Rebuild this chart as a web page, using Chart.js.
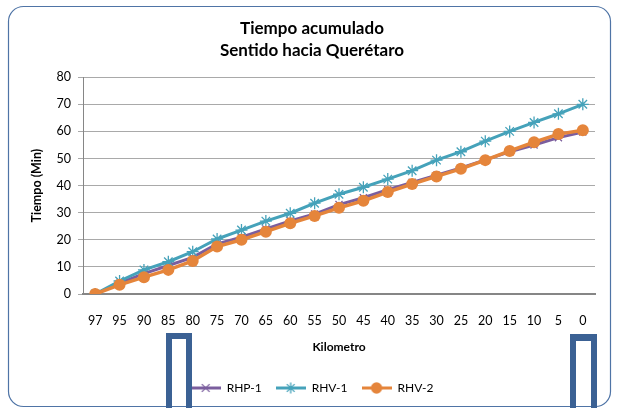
<!DOCTYPE html>
<html>
<head>
<meta charset="utf-8">
<script src="https://cdn.jsdelivr.net/npm/chart.js@4/dist/chart.umd.min.js"></script>
<style>
  html, body { margin: 0; padding: 0; background: #fff; }
  #wrap { width: 619px; height: 408px; }
</style>
</head>
<body>
<div id="wrap"><canvas id="chart1" width="619" height="408"></canvas></div>
<script>
// data
const km = ['97','95','90','85','80','75','70','65','60','55','50','45','40','35','30','25','20','15','10','5','0']
const rhp1 = [0, 4, 7.5, 10.5, 13.5, 18.5, 21, 24, 27, 29.5, 33, 35.5, 38.5, 41.2, 43.8, 46.5, 49.5, 52.5, 55, 57.7, 59.8]
const rhv1 = [0, 4.8, 8.9, 11.9, 15.6, 20.3, 23.6, 26.9, 29.8, 33.5, 36.8, 39.4, 42.4, 45.5, 49.4, 52.5, 56.4, 60, 63.3, 66.5, 70]
const rhv2 = [0, 3.4, 6.2, 8.9, 12.2, 17.5, 20, 23, 26.1, 28.8, 31.8, 34.4, 37.6, 40.6, 43.4, 46.2, 49.4, 52.8, 56, 59, 60.4]
const yTicks = [0, 10, 20, 30, 40, 50, 60, 70, 80]

const purple = '#7b5e9e'
const teal = '#45a2ba'
const orange = '#e5853b'
const font = 'Lato, "Open Sans", sans-serif'

// legend icon: line with marker
function legendIcon(color, style) {
  const c = document.createElement('canvas')
  c.width = 30
  c.height = 14
  const ctx = c.getContext('2d')
  ctx.strokeStyle = color
  ctx.fillStyle = color
  ctx.lineWidth = 3
  ctx.beginPath()
  ctx.moveTo(0, 7)
  ctx.lineTo(30, 7)
  ctx.stroke()
  ctx.lineWidth = 1.3
  Chart.helpers.drawPoint(ctx, {pointStyle: style, radius: style === 'circle' ? 5 : 5.5, borderWidth: 1.3}, 15, 7)
  return c
}

const frame = {
  id: 'frame',
  beforeDraw(chart) {
    const ctx = chart.ctx
    ctx.save()
    ctx.strokeStyle = '#4f74a6'
    ctx.lineWidth = 1.2
    ctx.beginPath()
    ctx.roundRect(8.5, 6.5, 602, 400, 15)
    ctx.stroke()
    ctx.restore()
  },
  afterDraw(chart) {
    const ctx = chart.ctx
    ctx.save()
    ctx.fillStyle = '#3b6194'
    // left bracket
    ctx.fillRect(166, 333, 6, 75)
    ctx.fillRect(166, 333, 26, 6)
    ctx.fillRect(186, 333, 6, 75)
    // right bracket
    ctx.fillRect(570, 334, 6, 74)
    ctx.fillRect(570, 334, 27, 7)
    ctx.fillRect(591, 334, 6, 74)
    ctx.restore()
  }
}

const data1 = {
  labels: km,
  datasets: [{
    label: 'RHP-1',
    data: rhp1,
    borderColor: purple,
    backgroundColor: purple,
    borderWidth: 3,
    pointStyle: 'crossRot',
    pointRadius: 5,
    pointBorderWidth: 1.3,
    order: 2,
    icon: legendIcon(purple, 'crossRot')
  }, {
    label: 'RHV-1',
    data: rhv1,
    borderColor: teal,
    backgroundColor: teal,
    borderWidth: 3,
    pointStyle: 'star',
    pointRadius: 6,
    pointBorderWidth: 1.3,
    order: 1,
    icon: legendIcon(teal, 'star')
  }, {
    label: 'RHV-2',
    data: rhv2,
    borderColor: orange,
    backgroundColor: orange,
    borderWidth: 3.5,
    pointStyle: 'circle',
    pointRadius: 6,
    pointBorderWidth: 0,
    order: 0,
    icon: legendIcon(orange, 'circle')
  }]
}

const config1 = {
  type: 'line',
  data: data1,
  plugins: [frame],
  options: {
    responsive: false,
    animation: false,
    layout: { padding: { left: 29, right: 24, top: 0, bottom: 4 } },
    plugins: {
      title: {
        display: true,
        text: ['Tiempo acumulado', 'Sentido hacia Querétaro'],
        color: '#000',
        font: { family: font, size: 17, weight: 'bold', lineHeight: 1.3 },
        padding: { top: 17, bottom: 16 }
      },
      legend: {
        position: 'bottom',
        labels: {
          color: '#000',
          font: { family: font, size: 12 },
          usePointStyle: true,
          pointStyleWidth: 30,
          padding: 14,
          generateLabels(chart) {
            return chart.data.datasets.map((ds, i) => ({
              text: ds.label,
              datasetIndex: i,
              pointStyle: ds.icon,
              fillStyle: ds.borderColor,
              strokeStyle: ds.borderColor,
              lineWidth: 0,
              hidden: false
            }))
          }
        }
      },
      tooltip: { enabled: false }
    },
    scales: {
      x: {
        offset: true,
        grid: { display: false, offset: true },
        border: { display: true, color: '#868686', width: 2 },
        ticks: { color: '#000', font: { family: font, size: 12.5 }, padding: 11, maxRotation: 0, autoSkip: false },
        title: { display: true, text: 'Kilometro', color: '#000', font: { family: font, size: 12, weight: 'bold' }, padding: { top: 0, bottom: 14 } },
        afterFit(scale) { scale.height = 74 }
      },
      y: {
        min: 0,
        max: 80,
        afterBuildTicks(scale) { scale.ticks = yTicks.map(v => ({ value: v })) },
        grid: { color: '#a9a9a9', lineWidth: 1, tickLength: 5 },
        border: { display: true, color: '#868686', width: 1 },
        ticks: { color: '#000', font: { family: font, size: 12.5 }, padding: 7 },
        title: { display: true, text: 'Tiempo (Min)', color: '#000', font: { family: font, size: 12.5, weight: 'bold' }, padding: { top: 0, bottom: 0 } },
        afterFit(scale) { scale.width = 54 }
      }
    }
  }
}

const myChart1 = new Chart(document.getElementById('chart1'), config1)
</script>
</body>
</html>
